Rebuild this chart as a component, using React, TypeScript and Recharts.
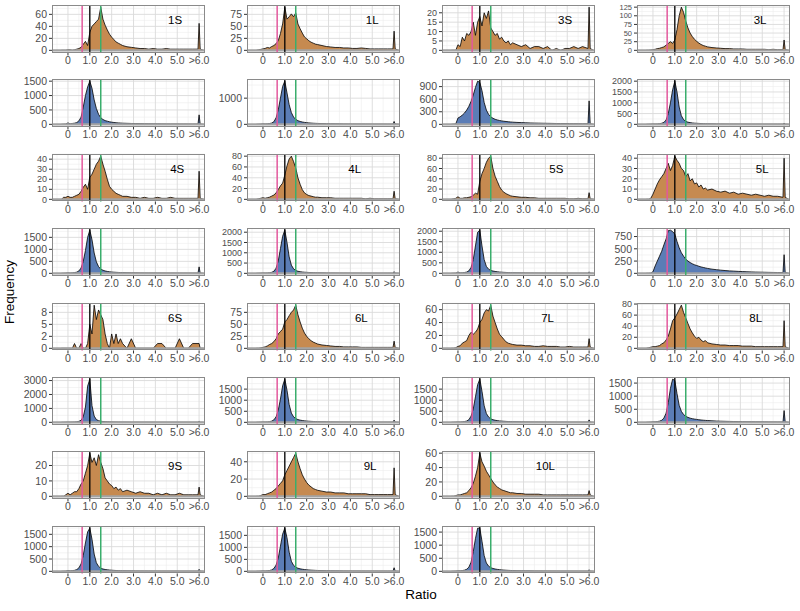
import { ComposedChart, Area, XAxis, YAxis, CartesianGrid, ReferenceLine, ReferenceDot } from 'recharts'

// ratio bins (">6.0" is collected at 6.0)
const RATIO = [
  -0.3, -0.2, -0.1, 0, 0.1, 0.2, 0.3, 0.4, 0.5, 0.6, 0.7, 0.8, 0.9, 1.0, 1.1, 1.2, 1.3, 1.4, 1.5, 1.6,
  1.7, 1.8, 1.9, 2.0, 2.1, 2.2, 2.3, 2.4, 2.5, 2.7, 2.9, 3.1, 3.3, 3.5, 3.7, 3.9, 4.1, 4.3, 4.5, 4.7,
  4.9, 5.1, 5.3, 5.5, 5.7, 5.95, 6.0, 6.05, 6.2,
]

const X_TICKS = [0, 1, 2, 3, 4, 5, 6]
const X_TICK_LABELS = ['0', '1.0', '2.0', '3.0', '4.0', '5.0', '>6.0']

// labelled subsets (brown)
const HIST_1S = [0,0,0,1,1,0,1,2,3,5,10,15,8,30,40,44,48,52,72,52,42,34,27,22,18,14,12,10,8,6,5,4,3,3,2,3,2,2,3,2,2,2,2,2,2,2,45,2,0]
const HIST_1L = [0,1,2,3,4,6,5,8,10,14,20,35,55,90,65,70,76,70,78,55,45,36,28,24,20,17,15,13,12,10,8,7,6,6,5,5,4,4,5,4,3,3,3,3,3,3,40,3,0]
const HIST_3S = [0,0,0,3,2,7,5,9,8,10,15,8,15,18,13,20,17,21,12,10,8,9,6,7,5,4,5,3,4,3,2,3,1,2,2,1,2,0,1,0,1,1,2,1,2,1,23,1,0]
const HIST_3L = [0,0,1,2,3,5,6,8,10,15,20,25,20,30,60,100,125,110,85,65,50,40,32,26,21,17,14,12,10,8,7,6,5,5,4,4,4,3,3,3,3,3,2,3,2,2,30,2,0]
const HIST_4S = [0,2,2,3,2,2,3,4,5,8,12,15,10,22,25,30,35,38,43,35,28,20,13,10,8,6,5,4,3,3,2,2,1,2,1,1,2,1,1,2,1,1,1,1,1,1,28,1,0]
const HIST_4L = [0,1,2,3,2,3,4,6,8,12,18,25,30,45,62,75,80,70,58,40,28,18,12,9,7,6,5,4,4,3,3,3,2,2,2,2,2,2,2,1,2,1,1,1,1,1,15,1,0]
const HIST_5S = [0,1,2,5,2,2,3,3,4,5,8,12,10,35,50,60,72,80,84,60,45,35,25,18,14,11,9,7,6,5,4,4,3,3,2,2,2,2,2,2,2,1,1,2,1,1,13,1,0]
const HIST_5L = [0,0,1,5,10,15,19,22,25,30,35,28,33,42,38,35,30,28,22,25,18,20,15,16,12,14,10,11,9,10,8,7,8,6,7,5,6,5,4,5,4,3,4,3,3,2,40,2,0]
const HIST_6S = [0,0,0,0,0,0,1,0,0,1,0,0,1,5,3,9,6,8,7,6,3,1,0,3,1,3,1,2,1,0,2,0,0,0,0,0,1,1,0,0,0,2,0,0,1,1,1,0,0]
const HIST_6L = [0,0,1,2,3,5,8,10,14,20,30,35,40,55,60,68,75,80,90,70,55,42,32,25,20,16,13,11,9,7,6,5,4,4,3,3,3,3,2,2,2,2,2,2,2,2,15,2,0]
const HIST_7L = [0,0,1,3,4,8,10,12,20,25,22,25,30,40,45,55,60,58,67,50,40,30,22,18,14,10,8,7,6,5,5,4,4,3,3,4,3,3,3,2,2,3,2,2,2,2,15,2,0]
const HIST_8L = [0,1,2,3,3,4,5,8,10,15,22,35,50,55,62,70,78,65,55,45,35,28,22,18,20,15,12,14,10,8,7,6,6,5,5,5,4,4,4,3,3,3,3,3,3,3,50,3,0]
const HIST_9S = [0,0,1,2,1,2,3,3,5,8,10,15,20,28,22,25,20,27,22,18,12,10,8,7,5,6,4,5,3,4,3,2,3,2,2,1,2,1,2,1,1,2,1,1,1,1,6,1,0]
const HIST_9L = [0,0,1,2,2,3,4,5,7,9,12,15,18,25,30,35,40,45,50,40,32,25,20,16,13,11,9,8,7,6,5,5,4,4,4,3,3,3,3,3,2,2,2,2,2,2,33,2,0]
const HIST_10L = [0,0,1,2,2,3,4,5,8,12,18,28,40,60,48,42,35,30,25,20,16,13,11,9,8,7,6,5,5,4,4,3,3,3,3,2,2,2,2,2,2,2,2,2,2,2,8,2,0]

// unlabelled panels (blue), row by row
const ROW2_A = [0,5,10,50,20,30,40,60,120,250,600,1000,1300,1500,1250,850,550,350,230,170,130,110,90,75,65,55,50,45,40,35,30,28,25,22,20,18,17,16,15,14,13,12,12,11,10,10,330,10,0]
const ROW2_B = [0,5,10,20,15,20,30,50,100,250,550,1000,1450,1650,1200,750,450,280,190,140,110,90,75,65,55,48,42,38,34,30,26,23,20,18,16,15,14,13,12,11,10,10,9,9,8,8,110,8,0]
const ROW2_C = [0,5,10,150,180,220,270,340,430,550,700,880,1030,1000,800,520,340,240,180,145,120,105,92,82,74,68,62,57,52,46,41,37,33,30,28,26,24,22,20,19,18,17,16,15,14,14,560,14,0]
const ROW2_D = [0,5,10,20,15,20,30,50,90,200,500,1000,1600,2000,1500,800,400,220,140,100,80,65,55,48,42,37,33,30,27,24,21,19,17,15,14,13,12,11,10,10,9,9,8,8,8,8,60,8,0]
const ROW4_A = [0,5,10,20,15,20,30,50,100,220,500,950,1500,1800,1400,850,480,280,180,130,100,80,65,55,48,42,37,33,30,26,23,21,19,17,16,15,14,13,12,12,11,11,10,10,10,10,270,10,0]
const ROW4_B = [0,5,10,20,15,20,30,50,100,250,600,1200,1800,2100,1500,800,400,220,140,100,80,65,55,48,42,37,33,30,27,24,21,19,17,15,14,13,12,11,10,10,9,9,8,8,8,8,80,8,0]
const ROW4_C = [0,5,10,60,25,30,40,60,120,280,650,1300,1950,2050,1300,650,330,200,140,110,90,75,62,54,47,42,37,33,30,27,24,21,19,17,16,15,14,13,12,11,10,10,9,9,9,9,70,9,0]
const ROW4_D = [0,0,5,30,150,250,350,450,580,700,870,880,850,800,650,520,420,350,290,250,220,195,175,160,145,130,120,110,100,85,75,65,57,50,45,40,36,32,29,26,24,22,20,18,17,16,380,16,0]
const ROW6_A = [0,5,10,20,15,20,25,40,70,150,400,1100,2600,3100,1200,450,200,120,80,60,50,42,36,31,27,24,21,19,17,15,13,12,11,10,9,9,8,8,7,7,7,6,6,6,6,6,70,6,0]
const ROW6_B = [0,5,10,20,15,20,30,55,110,250,550,1050,1650,1950,1450,800,420,250,170,125,100,82,68,58,50,44,39,35,31,27,24,21,19,17,16,15,14,13,12,11,10,10,9,9,9,9,100,9,0]
const ROW6_C = [0,5,10,20,15,25,35,60,120,280,600,1150,1700,1950,1400,750,400,240,160,120,95,78,65,55,48,42,37,33,29,26,23,20,18,16,15,14,13,12,11,10,10,9,9,8,8,8,110,8,0]
const ROW6_D = [0,5,10,20,20,30,45,80,160,350,750,1300,1650,1600,1100,650,420,300,230,190,160,140,125,112,100,90,82,75,68,58,50,44,39,35,31,28,26,24,22,20,19,18,17,16,15,15,450,15,0]
const ROW8_A = [0,5,10,30,20,30,40,70,140,300,650,1150,1600,1750,1300,700,350,200,130,95,75,62,52,45,39,34,30,27,24,21,19,17,15,14,13,12,11,10,10,9,9,8,8,8,8,8,80,8,0]
const ROW8_B = [0,5,10,20,15,25,35,60,120,260,550,1050,1550,1800,1400,800,420,250,170,130,105,88,75,65,57,50,45,40,36,31,27,24,22,20,18,17,16,15,14,13,12,12,11,11,10,10,150,10,0]
const ROW8_C = [0,5,10,20,20,30,45,80,160,350,750,1250,1650,1650,1150,600,320,200,140,110,90,75,64,55,48,42,37,33,30,26,23,20,18,16,15,14,13,12,11,10,10,9,9,8,8,8,60,8,0]

interface Panel {
  values: number[]
  yTicks: number[]
  yLabels?: string[]
  label?: string
  labelX?: number
}

const ROWS: Panel[][] = [
  [
    { values: HIST_1S, yTicks: [0, 20, 40, 60], label: '1S', labelX: 4.9 },
    { values: HIST_1L, yTicks: [0, 25, 50, 75], label: '1L', labelX: 5.0 },
    { values: HIST_3S, yTicks: [0, 5, 10, 15, 20], label: '3S', labelX: 4.9 },
    { values: HIST_3L, yTicks: [0, 25, 50, 75, 100, 125], label: '3L', labelX: 4.9 },
  ],
  [
    { values: ROW2_A, yTicks: [0, 500, 1000, 1500] },
    { values: ROW2_B, yTicks: [0, 1000] },
    { values: ROW2_C, yTicks: [0, 300, 600, 900] },
    { values: ROW2_D, yTicks: [0, 500, 1000, 1500, 2000] },
  ],
  [
    { values: HIST_4S, yTicks: [0, 10, 20, 30, 40], label: '4S', labelX: 5.0 },
    { values: HIST_4L, yTicks: [0, 20, 40, 60, 80], label: '4L', labelX: 4.2 },
    { values: HIST_5S, yTicks: [0, 20, 40, 60, 80], label: '5S', labelX: 4.5 },
    { values: HIST_5L, yTicks: [0, 10, 20, 30, 40], label: '5L', labelX: 5.0 },
  ],
  [
    { values: ROW4_A, yTicks: [0, 500, 1000, 1500] },
    { values: ROW4_B, yTicks: [0, 500, 1000, 1500, 2000] },
    { values: ROW4_C, yTicks: [0, 500, 1000, 1500, 2000] },
    { values: ROW4_D, yTicks: [0, 250, 500, 750] },
  ],
  [
    { values: HIST_6S, yTicks: [0, 2.5, 5, 7.5], yLabels: ['0', '2', '5', '8'], label: '6S', labelX: 4.9 },
    { values: HIST_6L, yTicks: [0, 25, 50, 75], label: '6L', labelX: 4.5 },
    { values: HIST_7L, yTicks: [0, 20, 40, 60], label: '7L', labelX: 4.1 },
    { values: HIST_8L, yTicks: [0, 20, 40, 60, 80], label: '8L', labelX: 4.7 },
  ],
  [
    { values: ROW6_A, yTicks: [0, 1000, 2000, 3000] },
    { values: ROW6_B, yTicks: [0, 500, 1000, 1500] },
    { values: ROW6_C, yTicks: [0, 500, 1000, 1500] },
    { values: ROW6_D, yTicks: [0, 500, 1000, 1500] },
  ],
  [
    { values: HIST_9S, yTicks: [0, 10, 20], label: '9S', labelX: 4.9 },
    { values: HIST_9L, yTicks: [0, 20, 40], label: '9L', labelX: 4.9 },
    { values: HIST_10L, yTicks: [0, 20, 40, 60], label: '10L', labelX: 4.0 },
  ],
  [
    { values: ROW8_A, yTicks: [0, 500, 1000, 1500] },
    { values: ROW8_B, yTicks: [0, 500, 1000, 1500] },
    { values: ROW8_C, yTicks: [0, 500, 1000, 1500] },
  ],
]

const FONT = '"Liberation Sans", Arial, sans-serif'
const BROWN = '#c68a50'
const BLUE = '#5b7db6'
const PINK = '#e3589d'
const GREEN = '#3aae6c'

const X_DOMAIN: [number, number] = [-0.73, 6.27]
const X_MINOR = [-0.5, 0.5, 1.5, 2.5, 3.5, 4.5, 5.5]

// facet geometry
const AXIS_W = 42
const MARGIN_TOP = 5
const MARGIN_RIGHT = 14
const X_AXIS_H = 20
const PLOT_W = 153
const PLOT_H = 47.5
const COL_LEFT = [52, 247, 442, 637]
const ROW_TOP = 5
const ROW_STEP = 74.4

function Facet({ panel, fill, left, top }: { panel: Panel; fill: string; left: number; top: number }) {
  const data = RATIO.map((x, i) => ({ x, y: panel.values[i] }))
  const peak = Math.max(...panel.values)
  const yDomain: [number, number] = [-0.05 * peak, 1.05 * peak]
  const step = panel.yTicks[1] - panel.yTicks[0]
  const yMinor = panel.yTicks.map(t => t + step / 2).filter(v => v < yDomain[1])
  const xTick = { fontSize: 10.5, fill: '#4d4d4d', fontFamily: FONT }
  // crowded y axes get a smaller face so the labels stay apart
  const ySize = panel.yTicks.length >= 6 ? 7.5 : panel.yTicks.length === 5 ? 9 : 10.5
  const yTick = { ...xTick, fontSize: ySize }

  return (
    <div style={{ position: 'absolute', left, top }}>
      <ComposedChart
        width={AXIS_W + PLOT_W + MARGIN_RIGHT}
        height={MARGIN_TOP + PLOT_H + X_AXIS_H}
        data={data}
        margin={{ top: MARGIN_TOP, right: MARGIN_RIGHT, bottom: 0, left: 0 }}
      >
        <CartesianGrid verticalValues={X_MINOR} horizontalValues={yMinor} stroke="#ececec" strokeWidth={0.6} />
        <CartesianGrid verticalValues={X_TICKS} horizontalValues={panel.yTicks} stroke="#dadada" strokeWidth={0.9} />
        <XAxis
          type="number"
          dataKey="x"
          domain={X_DOMAIN}
          ticks={X_TICKS}
          interval={0}
          allowDataOverflow
          height={X_AXIS_H}
          axisLine={false}
          tickSize={3}
          tickMargin={1}
          tickLine={{ stroke: '#333' }}
          tick={xTick}
          tickFormatter={(v: number) => X_TICK_LABELS[X_TICKS.indexOf(v)]}
        />
        <YAxis
          type="number"
          domain={yDomain}
          ticks={panel.yTicks}
          interval={0}
          allowDataOverflow
          width={AXIS_W}
          axisLine={false}
          tickSize={3}
          tickMargin={2}
          tickLine={{ stroke: '#333' }}
          tick={yTick}
          tickFormatter={(v: number) =>
            panel.yLabels ? panel.yLabels[panel.yTicks.indexOf(v)] : String(v)
          }
        />
        <ReferenceLine y={0} stroke="#a3a3a3" strokeWidth={2.2} />
        <Area
          type="linear"
          dataKey="y"
          baseValue={0}
          stroke="#000"
          strokeWidth={0.8}
          fill={fill}
          fillOpacity={1}
          dot={false}
          activeDot={false}
          isAnimationActive={false}
        />
        <ReferenceLine x={0.65} stroke={PINK} strokeWidth={1.5} />
        <ReferenceLine x={1.5} stroke={GREEN} strokeWidth={1.5} />
        <ReferenceLine x={1} stroke="#000" strokeWidth={1.3} />
        {panel.label && (
          <ReferenceDot
            x={panel.labelX}
            y={0.7 * peak}
            r={0}
            fill="none"
            stroke="none"
            label={{ value: panel.label, position: 'center', fontSize: 11.5, fill: '#000', fontFamily: FONT }}
          />
        )}
      </ComposedChart>
      <div
        style={{
          position: 'absolute',
          left: AXIS_W,
          top: MARGIN_TOP,
          width: PLOT_W,
          height: PLOT_H,
          border: '1px solid #8a8a8a',
          boxSizing: 'border-box',
          pointerEvents: 'none',
        }}
      />
    </div>
  )
}

export default function App() {
  return (
    <div
      style={{
        position: 'absolute',
        left: 0,
        top: 0,
        width: 800,
        height: 611,
        background: '#fff',
        fontFamily: FONT,
        overflow: 'hidden',
      }}
    >
      {ROWS.map((row, r) =>
        row.map((panel, c) => (
          <Facet
            key={`${r}-${c}`}
            panel={panel}
            fill={r % 2 === 0 ? BROWN : BLUE}
            left={COL_LEFT[c] - AXIS_W}
            top={ROW_TOP + r * ROW_STEP - MARGIN_TOP}
          />
        ))
      )}
      <div
        style={{
          position: 'absolute',
          left: 10 - 50,
          top: 292 - 9,
          width: 100,
          height: 18,
          lineHeight: '18px',
          textAlign: 'center',
          fontSize: 13.5,
          color: '#000',
          transform: 'rotate(-90deg)',
        }}
      >
        Frequency
      </div>
      <div
        style={{
          position: 'absolute',
          left: 0,
          top: 586,
          width: 842,
          height: 18,
          lineHeight: '18px',
          textAlign: 'center',
          fontSize: 13.5,
          color: '#000',
        }}
      >
        Ratio
      </div>
    </div>
  )
}
